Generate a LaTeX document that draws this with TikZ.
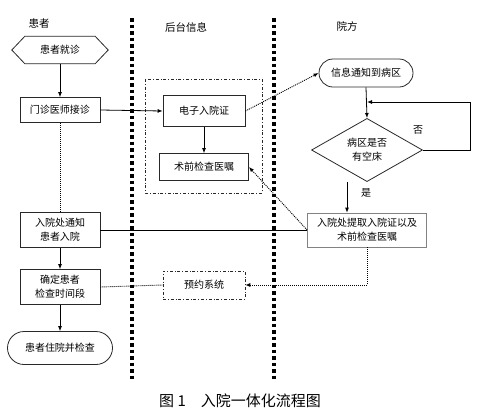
\documentclass[tikz,border=0pt]{standalone}
\usepackage{fontspec}
\setmainfont{Noto Sans CJK SC}
\usepackage{tikz}
\usetikzlibrary{arrows.meta,shapes.geometric,shapes.misc}
\definecolor{linegray}{RGB}{40,40,40}
\definecolor{edgegray}{RGB}{130,130,130}
\tikzset{
  flowchart/.style={x=1pt,y=-1pt,font=\fontsize{10pt}{14pt}\selectfont,>={Latex[length=5pt,width=4pt]}},
  box/.style={draw=linegray,line width=0.8pt,align=center,inner sep=2pt,minimum width=80pt},
  endcap/.style={rounded rectangle,draw=linegray,line width=0.8pt,inner sep=2pt},
  decision/.style={diamond,draw=linegray,line width=0.8pt,align=center,inner sep=0pt,minimum width=111pt,minimum height=63pt},
  lane/.style={line width=3.5pt,dash pattern=on 3.5pt off 3pt},
  group/.style={draw=linegray,line width=0.6pt,dash dot},
  flow/.style={->,line width=0.8pt},
  link/.style={line width=0.9pt,dash pattern=on 1pt off 1pt},
  header/.style={font=\fontsize{10.5pt}{12pt}\selectfont},
}

\begin{document}
\begin{tikzpicture}[flowchart]
\useasboundingbox (0,0) rectangle (480,416);
% lanes
\draw[lane] (132,18)--(132,382);
\draw[lane] (274,18)--(274,382);
\node[header] (hdrP) at (39,24) {患者};
\node[header] (hdrB) at (186,27) {后台信息};
\node[header] (hdrH) at (347,26) {院方};
% patient column
\node[minimum width=70pt,minimum height=27pt,inner sep=0pt] (visit) at (60,50) {患者就诊};
\draw[line width=0.8pt,draw=linegray] (visit.north west)--(visit.north east)--([xshift=13pt]visit.east)
  --(visit.south east)--(visit.south west)--([xshift=-13pt]visit.west)--cycle;
\node[box,minimum height=25pt] (clinic) at (60,110) {门诊医师接诊};
\node[box,minimum height=35pt] (notify) at (60,230) {入院处通知\\患者入院};
\node[box,minimum height=35pt] (schedule) at (60,287) {确定患者\\检查时间段};
\node[endcap,minimum width=109pt,minimum height=33pt] (stay) at (60,348) {患者住院并检查};
% back office
\draw[group] (145,79) rectangle (262,193);
\node[box,minimum width=82pt,minimum height=31pt] (ecert) at (204,111) {电子入院证};
\node[box,minimum width=89pt,minimum height=27pt] (order) at (204,167) {术前检查医嘱};
\node[box,group,minimum width=82pt,minimum height=28pt] (booking) at (204,285) {预约系统};
% hospital
\node[endcap,minimum width=98pt,minimum height=28pt] (ward) at (366,73) {信息通知到病区};
\node[decision] (bed) at (367,150) {病区是否\\有空床};
\node[box,draw=edgegray,minimum width=119pt,minimum height=34pt] (fetch) at (367,230) {入院处提取入院证以及\\术前检查医嘱};
\coordinate (loopR) at (470,102);
% connectors
\draw[flow] (visit.south)--(clinic.north);
\draw[flow] (clinic.east)--(ecert.west);
\draw[link] (clinic.south)--(notify.north);
\draw[flow] (notify.south)--(schedule.north);
\draw[flow] (schedule.south)--(stay.north);
\draw[flow] (ecert.south)--(order.north);
\draw[link,->] (ecert.east)--(ward.west);
\draw[flow] (ward.south)--(bed.north);
\draw[flow] (bed.east)-|(loopR)--(loopR-|bed.north);
\node (no) at (418,130) {否};
\draw[flow] ([xshift=-20pt]bed.south)--([xshift=-20pt]fetch.north);
\node (yes) at (366,193) {是};
\draw[line width=0.8pt] (notify.east)--(fetch.west);
\draw[link,->] (fetch.west)--(order.east);
\draw[link] (schedule.east)--(booking.west);
\draw[link,->] (fetch.south)|-(booking.east);
% caption
\node[font=\fontsize{15pt}{17pt}\selectfont] (caption) at (240,401) {图 1\quad 入院一体化流程图};
\end{tikzpicture}
\end{document}
